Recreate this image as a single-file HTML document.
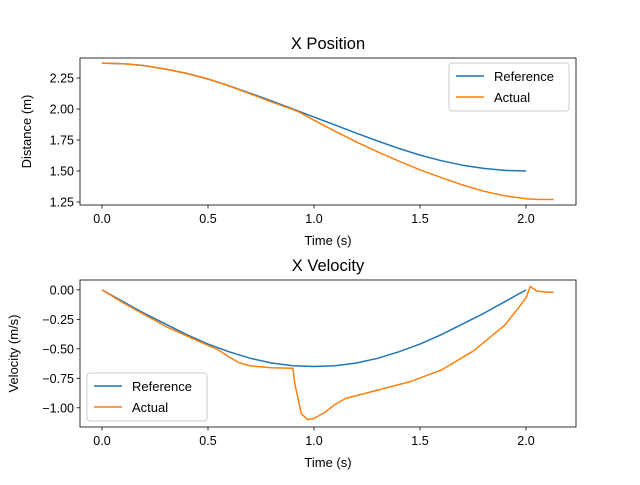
<!DOCTYPE html>
<html><head><meta charset="utf-8"><style>
body{margin:0;background:#fff}
svg text{font-family:"Liberation Sans","DejaVu Sans",sans-serif;fill:#000}
</style></head><body>
<svg id="fig" width="640" height="480" xmlns="http://www.w3.org/2000/svg"></svg>
<script>
const tRefPos=[0,0.1,0.2,0.3,0.4,0.5,0.6,0.7,0.8,0.9,1.0,1.1,1.2,1.3,1.4,1.5,1.6,1.7,1.8,1.9,2.0];
const refPos=[2.37,2.365,2.35,2.322,2.287,2.242,2.187,2.127,2.065,2.0,1.935,1.87,1.805,1.742,1.682,1.628,1.583,1.547,1.521,1.505,1.5];
const tActPos=[0,0.1,0.2,0.3,0.4,0.5,0.6,0.7,0.8,0.9,0.93,1.0,1.1,1.2,1.3,1.4,1.5,1.6,1.7,1.8,1.9,2.0,2.05,2.13];
const actPos=[2.37,2.365,2.35,2.322,2.287,2.242,2.185,2.122,2.057,1.995,1.975,1.91,1.82,1.735,1.655,1.58,1.51,1.447,1.388,1.337,1.3,1.277,1.271,1.27];
const tRefVel=[0,0.1,0.2,0.3,0.4,0.5,0.6,0.7,0.8,0.9,1.0,1.1,1.2,1.3,1.4,1.5,1.6,1.7,1.8,1.9,2.0];
const refVel=[0,-0.10,-0.20,-0.29,-0.38,-0.46,-0.525,-0.58,-0.62,-0.643,-0.65,-0.643,-0.62,-0.58,-0.525,-0.46,-0.38,-0.29,-0.20,-0.10,0];
const tActVel=[0,0.1,0.2,0.3,0.4,0.5,0.55,0.6,0.65,0.7,0.8,0.9,0.91,0.94,0.97,1.0,1.05,1.1,1.15,1.3,1.45,1.6,1.75,1.9,2.0,2.02,2.05,2.1,2.13];
const actVel=[0,-0.11,-0.21,-0.31,-0.39,-0.47,-0.51,-0.57,-0.62,-0.645,-0.66,-0.665,-0.8,-1.05,-1.1,-1.09,-1.04,-0.97,-0.92,-0.85,-0.78,-0.68,-0.52,-0.3,-0.07,0.03,-0.01,-0.02,-0.02];
const xTicks=[0,0.5,1,1.5,2], xTickLabels=["0.0","0.5","1.0","1.5","2.0"];
const posTicks=[1.25,1.5,1.75,2.0,2.25], posTickLabels=["1.25","1.50","1.75","2.00","2.25"];
const velTicks=[-1,-0.75,-0.5,-0.25,0], velTickLabels=["−1.00","−0.75","−0.50","−0.25","0.00"];

const svg=document.getElementById('fig'),NS="http://www.w3.org/2000/svg";
function el(tag,attrs,parent,txt){const e=document.createElementNS(NS,tag);for(const k in attrs)e.setAttribute(k,attrs[k]);if(txt!==undefined)e.textContent=txt;(parent||svg).appendChild(e);return e;}
function axes(name,top,bottom,ymin,ymax,yT,yL,title,ylabel,series,legX,legY){
  const L=80,R=576;
  const sx=v=>102+(v)*212, sy=v=>bottom-(v-ymin)/(ymax-ymin)*(bottom-top);
  const g=el('g',{});  
  series.forEach(s=>{
    const d=s.t.map((t,i)=>(i?'L':'M')+sx(t).toFixed(1)+','+sy(s.v[i]).toFixed(1)).join(' ');
    const p=el('path',{d:d,fill:'none',stroke:s.c,'stroke-width':1.5,'stroke-linejoin':'round'},g);
     
  });
  el('rect',{x:L,y:top,width:R-L,height:bottom-top,fill:'none',stroke:'#000','stroke-width':0.8},g);
  xTicks.forEach((t,i)=>{const x=sx(t);el('line',{x1:x,x2:x,y1:bottom,y2:bottom+3.5,stroke:'#000','stroke-width':0.8},g);
    const tx=el('text',{x:x,y:bottom+18,'font-size':12.5,'text-anchor':'middle'},g,xTickLabels[i]);});
  yT.forEach((t,i)=>{const y=sy(t);el('line',{x1:L-3.5,x2:L,y1:y,y2:y,stroke:'#000','stroke-width':0.8},g);
    const tx=el('text',{x:L-6,y:y+4.5,'font-size':12.5,'text-anchor':'end'},g,yL[i]);});
  const xt=el('text',{x:(L+R)/2,y:bottom+40,'font-size':13,'text-anchor':'middle'},g,'Time (s)');
  const yt=el('text',{x:0,y:0,'font-size':13,'text-anchor':'middle',transform:`translate(${name==='position'?31:18},${(top+bottom)/2}) rotate(-90)`},g,ylabel);
  const tt=el('text',{x:(L+R)/2,y:top-9,'font-size':16.5,'text-anchor':'middle'},g,title);
  const lg=el('g',{},g);
  el('rect',{x:legX,y:legY,width:120,height:48,rx:3,fill:'#fff','fill-opacity':0.8,stroke:'#ccc','stroke-width':1},lg);
  series.forEach((s,i)=>{const y=legY+13+i*21;
    el('line',{x1:legX+7,x2:legX+35,y1:y,y2:y,stroke:s.c,'stroke-width':1.5},lg);
    const e=el('text',{x:legX+45,y:y+5,'font-size':13},lg,s.n);});
}
axes('position',58,205,1.2258,2.4113,posTicks,posTickLabels,'X Position','Distance (m)',
  [{n:'Reference',t:tRefPos,v:refPos,c:'#1f77b4'},{n:'Actual',t:tActPos,v:actPos,c:'#ff7f0e'}],449,63);
axes('velocity',280,427,-1.1628,0.0836,velTicks,velTickLabels,'X Velocity','Velocity (m/s)',
  [{n:'Reference',t:tRefVel,v:refVel,c:'#1f77b4'},{n:'Actual',t:tActVel,v:actVel,c:'#ff7f0e'}],87,373);
</script>
</body></html>
